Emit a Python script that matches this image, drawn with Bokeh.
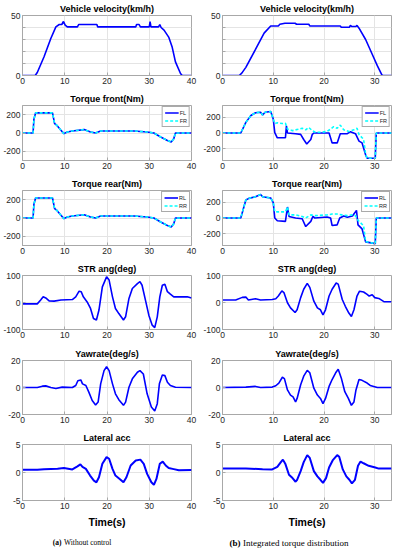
from bokeh.plotting import figure
from bokeh.layouts import row, column
from bokeh.models import Range1d, FixedTicker, Label
from bokeh.embed import file_html
from bokeh.resources import INLINE

# ---------------- data ----------------
# (a) Without control
vel_a_t = [0, 3.0, 3.5, 5.1, 6.7, 7.9, 8.7, 9.3, 9.7, 10.1, 10.6, 13.0, 13.3, 17.6, 17.8, 26.8, 27.0, 27.6, 27.9, 30.0,
           30.2, 30.4, 32.2, 32.5, 32.8, 33.5, 34.6, 35.4, 36.2, 37.4, 37.8, 40.0]
vel_a = [0, 0, 2.5, 15.6, 30.8, 40.5, 42.5, 42.5, 45, 42, 40.5, 40.5, 42.5, 42.5, 40.5, 40.5, 42.5, 42.5, 40.5, 40.5,
         45, 40.5, 40.5, 42.5, 40, 37.8, 32, 24, 11.4, 1.7, 0, 0]

tq_a_t = [0, 2.5, 2.7, 3.1, 7.1, 7.6, 8.1, 9.1, 9.8, 10.6, 11.8, 14.6, 16.1, 17.3, 18.5, 22.4, 26.4, 29.5, 31.1, 32.7,
          34.3, 35.2, 35.8, 36.2, 40.0]
tqf_a_fl = [0, 0, 150, 220, 220, 103, 85, 30, -7, 11, 22, 37, 11, 0, 22, 22, 22, 11, 0, -44, -81, -99, -62, 0, 0]
tqf_a_fr = [0, 0, 150, 220, 220, 103, 85, 30, -7, 11, 22, 37, 11, 0, 22, 22, 22, 11, 0, -44, -81, -99, -62, 0, 0]
tqr_a_rl = [0, 0, 150, 218, 218, 103, 85, 30, -7, 11, 22, 35, 11, 0, 22, 22, 22, 11, 0, -44, -81, -99, -62, 0, 0]
tqr_a_rr = [0, 0, 150, 218, 218, 103, 85, 30, -7, 11, 22, 35, 11, 0, 22, 22, 22, 11, 0, -44, -81, -99, -62, 0, 0]

str_a_t = [0, 3.5, 4.3, 4.9, 5.5, 6.3, 7.5, 9.1, 11.8, 12.6, 13.4, 13.9, 14.4, 15.3, 16.1, 16.8, 17.5, 18.1, 18.9, 19.9,
           20.5, 21.3, 22.0, 22.8, 23.9, 24.4, 25.2, 26.0, 27.2, 27.8, 28.3, 29.1, 29.9, 30.7, 31.3, 31.9, 32.5, 33.1,
           33.7, 34.3, 35.0, 35.8, 39.0, 40.0]
str_a = [-5, -5, 9, 21, 17, 6, 5, 9, 11, 21, 42, 40, 21, 2, -22, -59, -65, -28, 58, 95,
         83, 21, -22, -41, -65, -53, 15, 52, 70, 77, 64, 9, -47, -84, -93, -53, 21, 64, 68, 40, 31, 21, 21, 17]

yaw_a_t = [0, 3.5, 4.7, 5.5, 6.7, 7.9, 9.4, 11.8, 12.6, 13.1, 13.8, 14.2, 15.0, 15.7, 16.5, 17.3, 17.9, 18.5, 19.3, 19.9,
           20.5, 21.3, 22.0, 22.8, 23.9, 24.4, 25.2, 26.0, 27.2, 27.8, 28.6, 29.5, 30.5, 31.3, 31.9, 32.4, 33.1, 33.7,
           34.3, 35.0, 36.2, 40.0]
yaw_a = [0, 0, 1, 1.2, 0, -0.7, 0.3, 0, 1.5, 5, 5.6, 2.7, 1.5, -3.4, -9.6, -13, -10.8, 2.7, 12.5, 15.4,
         12.5, 2.7, -4.7, -9, -13.2, -10.8, 0.2, 6.4, 11.3, 12.5, 10, -4.7, -14.5, -17.4, -12, 2.7, 9.3, 8.8, 3.9, 1.5,
         0.2, 0]

lat_a_t = [0, 3.5, 5.1, 8.3, 9.8, 11.8, 13.0, 13.7, 14.2, 15.0, 16.0, 16.9, 17.5, 18.1, 18.9, 19.9, 20.5, 21.3, 22.0,
           23.0, 23.9, 24.6, 25.6, 26.8, 27.9, 28.7, 29.5, 30.5, 31.1, 31.7, 32.5, 33.2, 33.9, 34.6, 35.8, 37.0, 40.0]
lat_a = [0.5, 0.5, 0.6, 0.65, 0.8, 0.55, 1.1, 1.45, 1.0, 0.65, -0.55, -1.45, -1.75, -0.85, 1.55, 2.75, 2.45, 0.65,
         -0.55, -1.15, -1.75, -0.85, 1.25, 2.15, 2.3, 1.55, -0.25, -1.75, -2.2, -1.15, 1.55, 1.95, 1.25, 0.8, 0.6, 0.4,
         0.45]

# (b) Integrated torque distribution
vel_b_t = [0, 3.3, 3.8, 4.6, 6.5, 8.2, 9.5, 11.0, 11.3, 12.3, 14.3, 14.6, 17.0, 17.2, 23.2, 23.4, 25.0, 25.2, 25.5,
           26.3, 26.5, 26.9, 28.2, 29.5, 30.5, 31.4, 31.6, 33.3]
vel_b = [0, 0, 2, 6.8, 21.7, 35.3, 41.3, 41.3, 42.7, 43.5, 43.5, 42.7, 42.7, 41.3, 41.3, 40.2, 40.2, 41.8, 40.8,
         40.8, 41.8, 39.4, 30, 17.7, 8.2, 0.5, 0, 0]

fl_b_t = [0, 3.6, 4.6, 5.6, 6.5, 7.5, 7.9, 8.4, 9.5, 10.0, 10.3, 10.8, 12.4, 12.6, 12.8, 14.4, 15.4, 16.0, 16.6, 17.4,
          17.7, 18.0, 21.0, 21.6, 22.6, 23.2, 24.6, 25.2, 26.2, 26.9, 27.5, 28.2, 28.5, 30.1, 30.3, 33.3]
fl_b = [0, 0, 135, 222, 257, 265, 230, 265, 274, 178, 4, -61, -61, 91, 0, -9, -17, -83, -139, -83,
        -17, 0, 0, -126, -126, -9, -9, 17, -9, -104, -126, -278, -322, -322, 0, 0]
fr_b_t = [0, 3.6, 4.6, 5.6, 6.5, 7.5, 7.9, 8.4, 9.5, 10.0, 10.3, 10.8, 11.8, 12.4, 12.8, 13.8, 14.7, 15.7, 16.4, 17.0,
          17.7, 18.3, 19.6, 20.6, 21.3, 21.9, 22.6, 23.2, 23.9, 24.9, 25.9, 26.5, 26.9, 27.5, 27.8, 28.2, 28.5, 30.1,
          30.3, 33.3]
fr_b = [0, 0, 135, 222, 257, 265, 230, 265, 274, 178, 120, 130, 120, 125, 50, 30, 45, 60, 40, 70,
        30, 10, 10, 20, 50, 80, 60, 100, 40, 20, 40, 60, -20, -60, -80, -270, -322, -322, 0, 0]

rl_b_t = [0, 3.6, 4.6, 5.2, 6.5, 7.5, 7.9, 9.5, 10.0, 10.3, 10.8, 12.4, 12.8, 13.1, 14.4, 15.7, 16.4, 17.4, 17.8, 18.2,
          20.6, 21.3, 21.6, 22.6, 23.1, 23.9, 24.6, 25.6, 26.4, 26.7, 27.5, 28.2, 30.1, 30.3, 33.3]
rl_b = [0, 0, 230, 250, 270, 300, 270, 255, 195, 0, -35, -43, 140, 20, 0, -10, -109, -43, 20, 0,
        13, 0, -96, -87, 0, 26, 9, 26, 96, -87, -139, -304, -326, 0, 0]
rr_b_t = [0, 3.6, 4.6, 5.2, 6.5, 7.5, 7.9, 9.5, 10.0, 10.3, 10.8, 12.4, 12.8, 13.1, 14.4, 15.7, 16.4, 17.4, 18.3, 20.6,
          21.6, 22.6, 23.5, 24.6, 25.6, 26.2, 26.7, 27.5, 27.8, 28.2, 30.1, 30.3, 33.3]
rr_b = [0, 0, 230, 250, 270, 300, 270, 255, 195, 80, 78, 78, 140, 40, 40, 20, 0, 40, 30, 40,
        50, 50, 40, 30, 40, 30, -30, -80, -100, -300, -326, 0, 0]

str_b_t = [0, 2.6, 3.9, 4.6, 5.1, 6.5, 7.5, 9.8, 10.5, 11.0, 11.7, 12.1, 12.8, 13.4, 14.3, 14.7, 15.4, 16.0, 16.7, 17.2,
           18.0, 18.7, 19.3, 19.8, 20.3, 21.0, 21.6, 22.4, 22.8, 23.6, 24.2, 24.9, 25.4, 25.9, 26.5, 27.0, 27.8, 28.5,
           28.9, 29.5, 30.0, 30.8, 31.8, 33.3]
str_b = [9, 9, 19, 20, 9, 14, 9, 11, 14, 24, 43, 37, -1, -20, -37, -27, 18, 49, 71, 56,
         5, -20, -27, -46, -27, 24, 49, 72, 68, 11, -14, -39, -52, -27, 24, 42, 39, 30, 24, 29, 18, 15, 3, 3]

yaw_b_t = [0, 4.6, 6.5, 7.5, 9.8, 10.5, 11.1, 11.8, 12.2, 12.8, 13.4, 13.9, 14.4, 14.7, 15.4, 16.0, 16.7, 17.2, 18.0,
           18.7, 19.3, 19.8, 20.3, 21.0, 21.6, 22.3, 22.8, 23.4, 24.1, 24.8, 25.4, 25.9, 26.3, 26.9, 27.5, 28.5, 29.1,
           29.8, 30.5, 33.3]
yaw_b = [0, 0.3, 0.8, 0, 0.3, 1.3, 3.3, 7.6, 6.6, -1.8, -5.6, -6.9, -10.7, -8.1, 2.0, 8.4, 12.7, 10.9, -0.5, -5.6,
         -8.1, -11.9, -8.1, 0.8, 5.9, 10.9, 13.5, 7.1, -3.1, -8.1, -13.2, -10.7, -1.8, 5.9, 5.3, 3.3, 1.5, 0.8, 0, 0]

lat_b_t = [0, 4.6, 7.9, 9.8, 10.8, 11.5, 11.9, 12.4, 13.1, 13.8, 14.4, 14.7, 15.4, 16.0, 16.7, 17.2, 18.0, 18.7, 19.3,
           19.8, 20.4, 21.0, 21.7, 22.6, 23.0, 23.7, 24.4, 25.0, 25.5, 26.1, 26.7, 27.2, 27.8, 28.8, 30.1, 30.8, 33.3]
lat_b = [0.7, 0.7, 0.6, 0.55, 1.0, 1.85, 2.3, 1.5, -0.4, -1.0, -1.65, -1.3, 0.25, 1.85, 3.1, 2.6, 0.25, -0.7, -1.3,
         -1.85, -1.0, 0.9, 2.15, 3.1, 2.8, 0.55, -0.7, -1.3, -1.95, -1.3, 1.2, 1.95, 1.65, 1.2, 0.9, 0.7, 0.7]

# ticks / labels
x_ticks_a = [0, 10, 20, 30, 40]
x_labels_a = ["0", "10", "20", "30", "40"]
x_ticks_b = [0, 10, 20, 30]
x_labels_b = ["0", "10", "20", "30"]
vel_ticks = [0, 10, 20, 30, 40, 50]
vel_labels = ["0", "", "", "", "", "50"]
tq_ticks = [-200, 0, 200]
tq_labels = ["-200", "0", "200"]
str_ticks = [-100, 0, 100]
str_labels = ["-100", "0", "100"]
yaw_ticks = [-20, 0, 20]
yaw_labels = ["-20", "0", "20"]
lat_ticks = [-5, 0, 5]
lat_labels = ["-5", "0", "5"]

titles = ["Vehicle velocity(km/h)", "Torque front(Nm)", "Torque rear(Nm)", "STR ang(deg)", "Yawrate(deg/s)",
          "Lateral acc"]
x_axis_title = "Time(s)"
caption_a = ("(a)", "Without control")
caption_b = ("(b)", "Integrated torque distribution")

# ---------------- styling ----------------
FONT = "Liberation Sans"
SERIF = "Liberation Serif"
BLUE = "#0000ff"
CYAN = "#00ffff"
FRAME = "#a8a8a8"
TXT = "#262626"

# row geometry: (top border, frame height, bottom border)
rows_geom = [(15, 60, 15), (15, 55, 15), (15, 55, 15), (15, 54, 16), (15, 54, 15), (15, 56, 33)]
# column geometry: (left border, frame width, right border)
col_geom = [(22, 169, 9), (22, 169, 3)]
CAP_H = 17


def panel(title, col, rg, xr, yr, xt, xl, yt, yl, xlabel=None):
    lb, fw, rb = col_geom[col]
    tb, fh, bb = rg
    p = figure(width=lb + fw + rb, height=tb + fh + bb, x_range=Range1d(*xr), y_range=Range1d(*yr),
               output_backend="svg", toolbar_location=None, title=title,
               min_border_left=lb, min_border_right=rb, min_border_top=tb, min_border_bottom=bb)
    p.title.align = "center"
    p.title.text_font = FONT
    p.title.text_font_size = "9px"
    p.title.text_font_style = "bold"
    p.title.text_color = "black"
    p.title.standoff = 3
    p.title.offset = 0
    p.outline_line_color = FRAME
    p.outline_line_width = 1
    for ax, ticks, labels in ((p.xaxis, xt, xl), (p.yaxis, yt, yl)):
        ax.ticker = FixedTicker(ticks=ticks)
        ax.major_label_overrides = {t: l for t, l in zip(ticks, labels)}
        ax.axis_line_color = FRAME
        ax.major_tick_line_color = FRAME
        ax.major_tick_in = 3
        ax.major_tick_out = 0
        ax.minor_tick_line_color = None
        ax.major_label_text_font = FONT
        ax.major_label_text_font_size = "8.5px"
        ax.major_label_text_color = TXT
        ax.major_label_standoff = 2
    if xlabel:
        p.xaxis.axis_label = xlabel
        p.xaxis.axis_label_text_font = FONT
        p.xaxis.axis_label_text_font_size = "10.5px"
        p.xaxis.axis_label_text_font_style = "bold"
        p.xaxis.axis_label_text_color = "black"
        p.xaxis.axis_label_standoff = 4
    p.grid.grid_line_color = "#e4e4e4"
    p.grid.grid_line_width = 1
    return p


def legendize(p):
    lg = p.legend[0]
    lg.location = "top_right"
    lg.label_text_font = FONT
    lg.label_text_font_size = "5.5px"
    lg.label_text_color = TXT
    lg.glyph_width = 14
    lg.glyph_height = 7
    lg.label_height = 7
    lg.label_width = 7
    lg.label_standoff = 1
    lg.padding = 2
    lg.spacing = 1
    lg.margin = 1
    lg.border_line_color = "#555555"
    lg.border_line_width = 0.6
    lg.background_fill_alpha = 1


xr_a = (0, 40)
xr_b = (0, 33.3)

# velocity
p1a = panel(titles[0], 0, rows_geom[0], xr_a, (0, 50), x_ticks_a, x_labels_a, vel_ticks, vel_labels)
p1a.line(vel_a_t, vel_a, line_color=BLUE, line_width=1.6)
p1b = panel(titles[0], 1, rows_geom[0], xr_b, (0, 50), x_ticks_b, x_labels_b, vel_ticks, vel_labels)
p1b.line(vel_b_t, vel_b, line_color=BLUE, line_width=1.6)

# torque front
p2a = panel(titles[1], 0, rows_geom[1], xr_a, (-300, 300), x_ticks_a, x_labels_a, tq_ticks, tq_labels)
p2a.line(tq_a_t, tqf_a_fl, line_color=BLUE, line_width=1.6, legend_label="FL")
p2a.line(tq_a_t, tqf_a_fr, line_color=CYAN, line_width=1.6, line_dash="3 2", legend_label="FR")
legendize(p2a)
p2b = panel(titles[1], 1, rows_geom[1], xr_b, (-350, 350), x_ticks_b, x_labels_b, tq_ticks, tq_labels)
p2b.line(fl_b_t, fl_b, line_color=BLUE, line_width=1.6, legend_label="FL")
p2b.line(fr_b_t, fr_b, line_color=CYAN, line_width=1.6, line_dash="3 2", legend_label="FR")
legendize(p2b)

# torque rear
p3a = panel(titles[2], 0, rows_geom[2], xr_a, (-300, 300), x_ticks_a, x_labels_a, tq_ticks, tq_labels)
p3a.line(tq_a_t, tqr_a_rl, line_color=BLUE, line_width=1.6, legend_label="RL")
p3a.line(tq_a_t, tqr_a_rr, line_color=CYAN, line_width=1.6, line_dash="3 2", legend_label="RR")
legendize(p3a)
p3b = panel(titles[2], 1, rows_geom[2], xr_b, (-350, 350), x_ticks_b, x_labels_b, tq_ticks, tq_labels)
p3b.line(rl_b_t, rl_b, line_color=BLUE, line_width=1.6, legend_label="RL")
p3b.line(rr_b_t, rr_b, line_color=CYAN, line_width=1.6, line_dash="3 2", legend_label="RR")
legendize(p3b)

# steering
p4a = panel(titles[3], 0, rows_geom[3], xr_a, (-100, 100), x_ticks_a, x_labels_a, str_ticks, str_labels)
p4a.line(str_a_t, str_a, line_color=BLUE, line_width=1.6)
p4b = panel(titles[3], 1, rows_geom[3], xr_b, (-100, 100), x_ticks_b, x_labels_b, str_ticks, str_labels)
p4b.line(str_b_t, str_b, line_color=BLUE, line_width=1.6)

# yaw rate
p5a = panel(titles[4], 0, rows_geom[4], xr_a, (-20, 20), x_ticks_a, x_labels_a, yaw_ticks, yaw_labels)
p5a.line(yaw_a_t, yaw_a, line_color=BLUE, line_width=1.6)
p5b = panel(titles[4], 1, rows_geom[4], xr_b, (-20, 20), x_ticks_b, x_labels_b, yaw_ticks, yaw_labels)
p5b.line(yaw_b_t, yaw_b, line_color=BLUE, line_width=1.6)

# lateral acc
p6a = panel(titles[5], 0, rows_geom[5], xr_a, (-5, 5), x_ticks_a, x_labels_a, lat_ticks, lat_labels, x_axis_title)
p6a.line(lat_a_t, lat_a, line_color=BLUE, line_width=2)
p6b = panel(titles[5], 1, rows_geom[5], xr_b, (-5, 5), x_ticks_b, x_labels_b, lat_ticks, lat_labels, x_axis_title)
p6b.line(lat_b_t, lat_b, line_color=BLUE, line_width=2)


def caption(col, parts, split_x, size):
    lb, fw, rb = col_geom[col]
    w = lb + fw + rb
    c = figure(width=w, height=CAP_H, x_range=Range1d(0, w), y_range=Range1d(0, CAP_H), output_backend="svg",
               toolbar_location=None, x_axis_type=None, y_axis_type=None,
               min_border_left=0, min_border_right=0, min_border_top=0, min_border_bottom=0)
    c.outline_line_color = None
    c.grid.visible = False
    c.add_layout(Label(x=split_x, y=8, text=parts[0], text_align="right", text_baseline="middle",
                       text_font=SERIF, text_font_size=size, text_font_style="bold", text_color="black"))
    c.add_layout(Label(x=split_x + 2.5, y=8, text=parts[1], text_align="left", text_baseline="middle",
                       text_font=SERIF, text_font_size=size, text_color="black"))
    return c


cap_a = caption(0, caption_a, 61, "7.5px")
cap_b = caption(1, caption_b, 40, "9px")

layout = column(
    row(p1a, p1b, spacing=0),
    row(p2a, p2b, spacing=0),
    row(p3a, p3b, spacing=0),
    row(p4a, p4b, spacing=0),
    row(p5a, p5b, spacing=0),
    row(p6a, p6b, spacing=0),
    row(cap_a, cap_b, spacing=0),
    spacing=0,
)

open("out.html", "w").write(file_html(layout, INLINE))
